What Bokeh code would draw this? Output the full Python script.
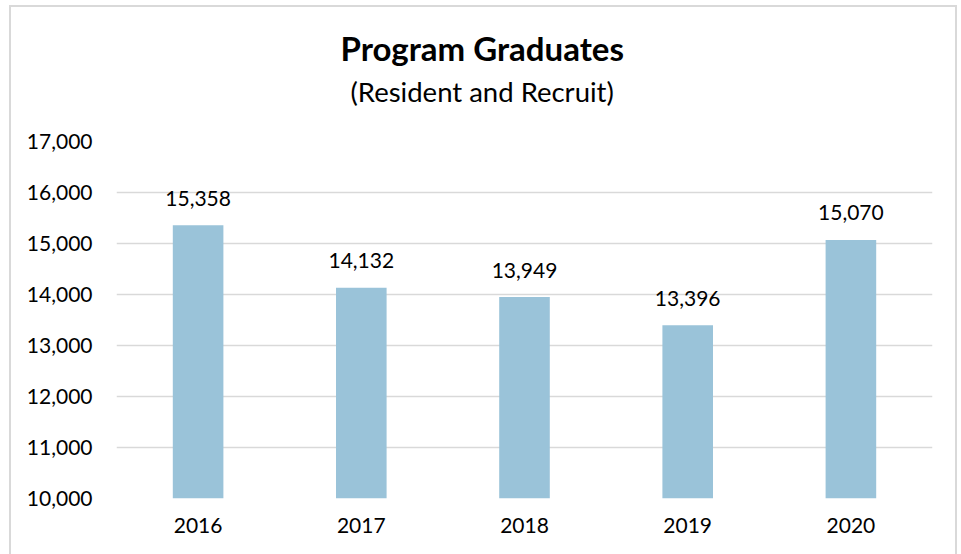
from bokeh.plotting import figure
from bokeh.models import ColumnDataSource, FixedTicker, NumeralTickFormatter, Title
from bokeh.core.properties import value
from bokeh.embed import file_html
from bokeh.resources import INLINE

years = ["2016", "2017", "2018", "2019", "2020"]
graduates = [15358, 14132, 13949, 13396, 15070]
y_ticks = [10000, 11000, 12000, 13000, 14000, 15000, 16000, 17000]
title_text = "Program Graduates"
subtitle_text = "(Resident and Recruit)"

FONT = "Lato"
W, H = 948, 549

src = ColumnDataSource(dict(
    year=years,
    val=graduates,
    lbl=[f"{v:,}" for v in graduates],
))

p = figure(
    x_range=years, y_range=(y_ticks[0], y_ticks[-1]),
    width=W, height=H, output_backend="svg", toolbar_location=None,
    min_border_left=105, min_border_right=27, min_border_top=134, min_border_bottom=58,
)
p.styles = {
    "margin-left": "9px", "margin-top": "5px",
    "border-left": "2px solid #D9D9D9", "border-top": "2px solid #D9D9D9",
    "border-right": "2px solid #D9D9D9",
}
p.outline_line_color = None
p.background_fill_color = "white"
p.border_fill_color = "white"
p.x_range.range_padding = 0

p.vbar(x="year", top="val", bottom=y_ticks[0], width=0.31, source=src,
       fill_color="#9AC3D9", line_color=None)

p.text(x="year", y="val", text="lbl", source=src, text_align="center",
       text_baseline="middle", y_offset=-27, text_font=value(FONT),
       text_font_size="21px", text_color="#000000")

p.yaxis.ticker = FixedTicker(ticks=y_ticks)
p.yaxis.formatter = NumeralTickFormatter(format="0,0")
for ax in (p.xaxis, p.yaxis):
    ax.axis_line_color = None
    ax.major_tick_line_color = None
    ax.minor_tick_line_color = None
    ax.major_label_text_font = FONT
    ax.major_label_text_font_size = "21px"
    ax.major_label_text_color = "#000000"
p.yaxis.major_label_standoff = 18
p.xaxis.major_label_standoff = 13

p.xgrid.grid_line_color = None
p.ygrid.grid_line_color = "#D9D9D9"
p.ygrid.grid_line_width = 1.5

# the figure's own title sits farthest from the frame
p.title.text = title_text
p.title.align = "left"
p.title.offset = 224
p.title.standoff = 10
p.title.text_font = FONT
p.title.text_font_style = "bold"
p.title.text_font_size = "33px"
p.title.text_color = "#000000"

# "above" list: first entry is nearest the frame
p.add_layout(Title(text=" ", align="left", standoff=20, text_font=FONT,
                   text_font_size="10px", text_color="#ffffff"), "above")
p.add_layout(Title(text=subtitle_text, align="left", offset=234, standoff=0,
                   text_font=FONT, text_font_style="normal", text_font_size="27.5px",
                   text_color="#000000"), "above")

open("out.html", "w").write(file_html(p, INLINE))
